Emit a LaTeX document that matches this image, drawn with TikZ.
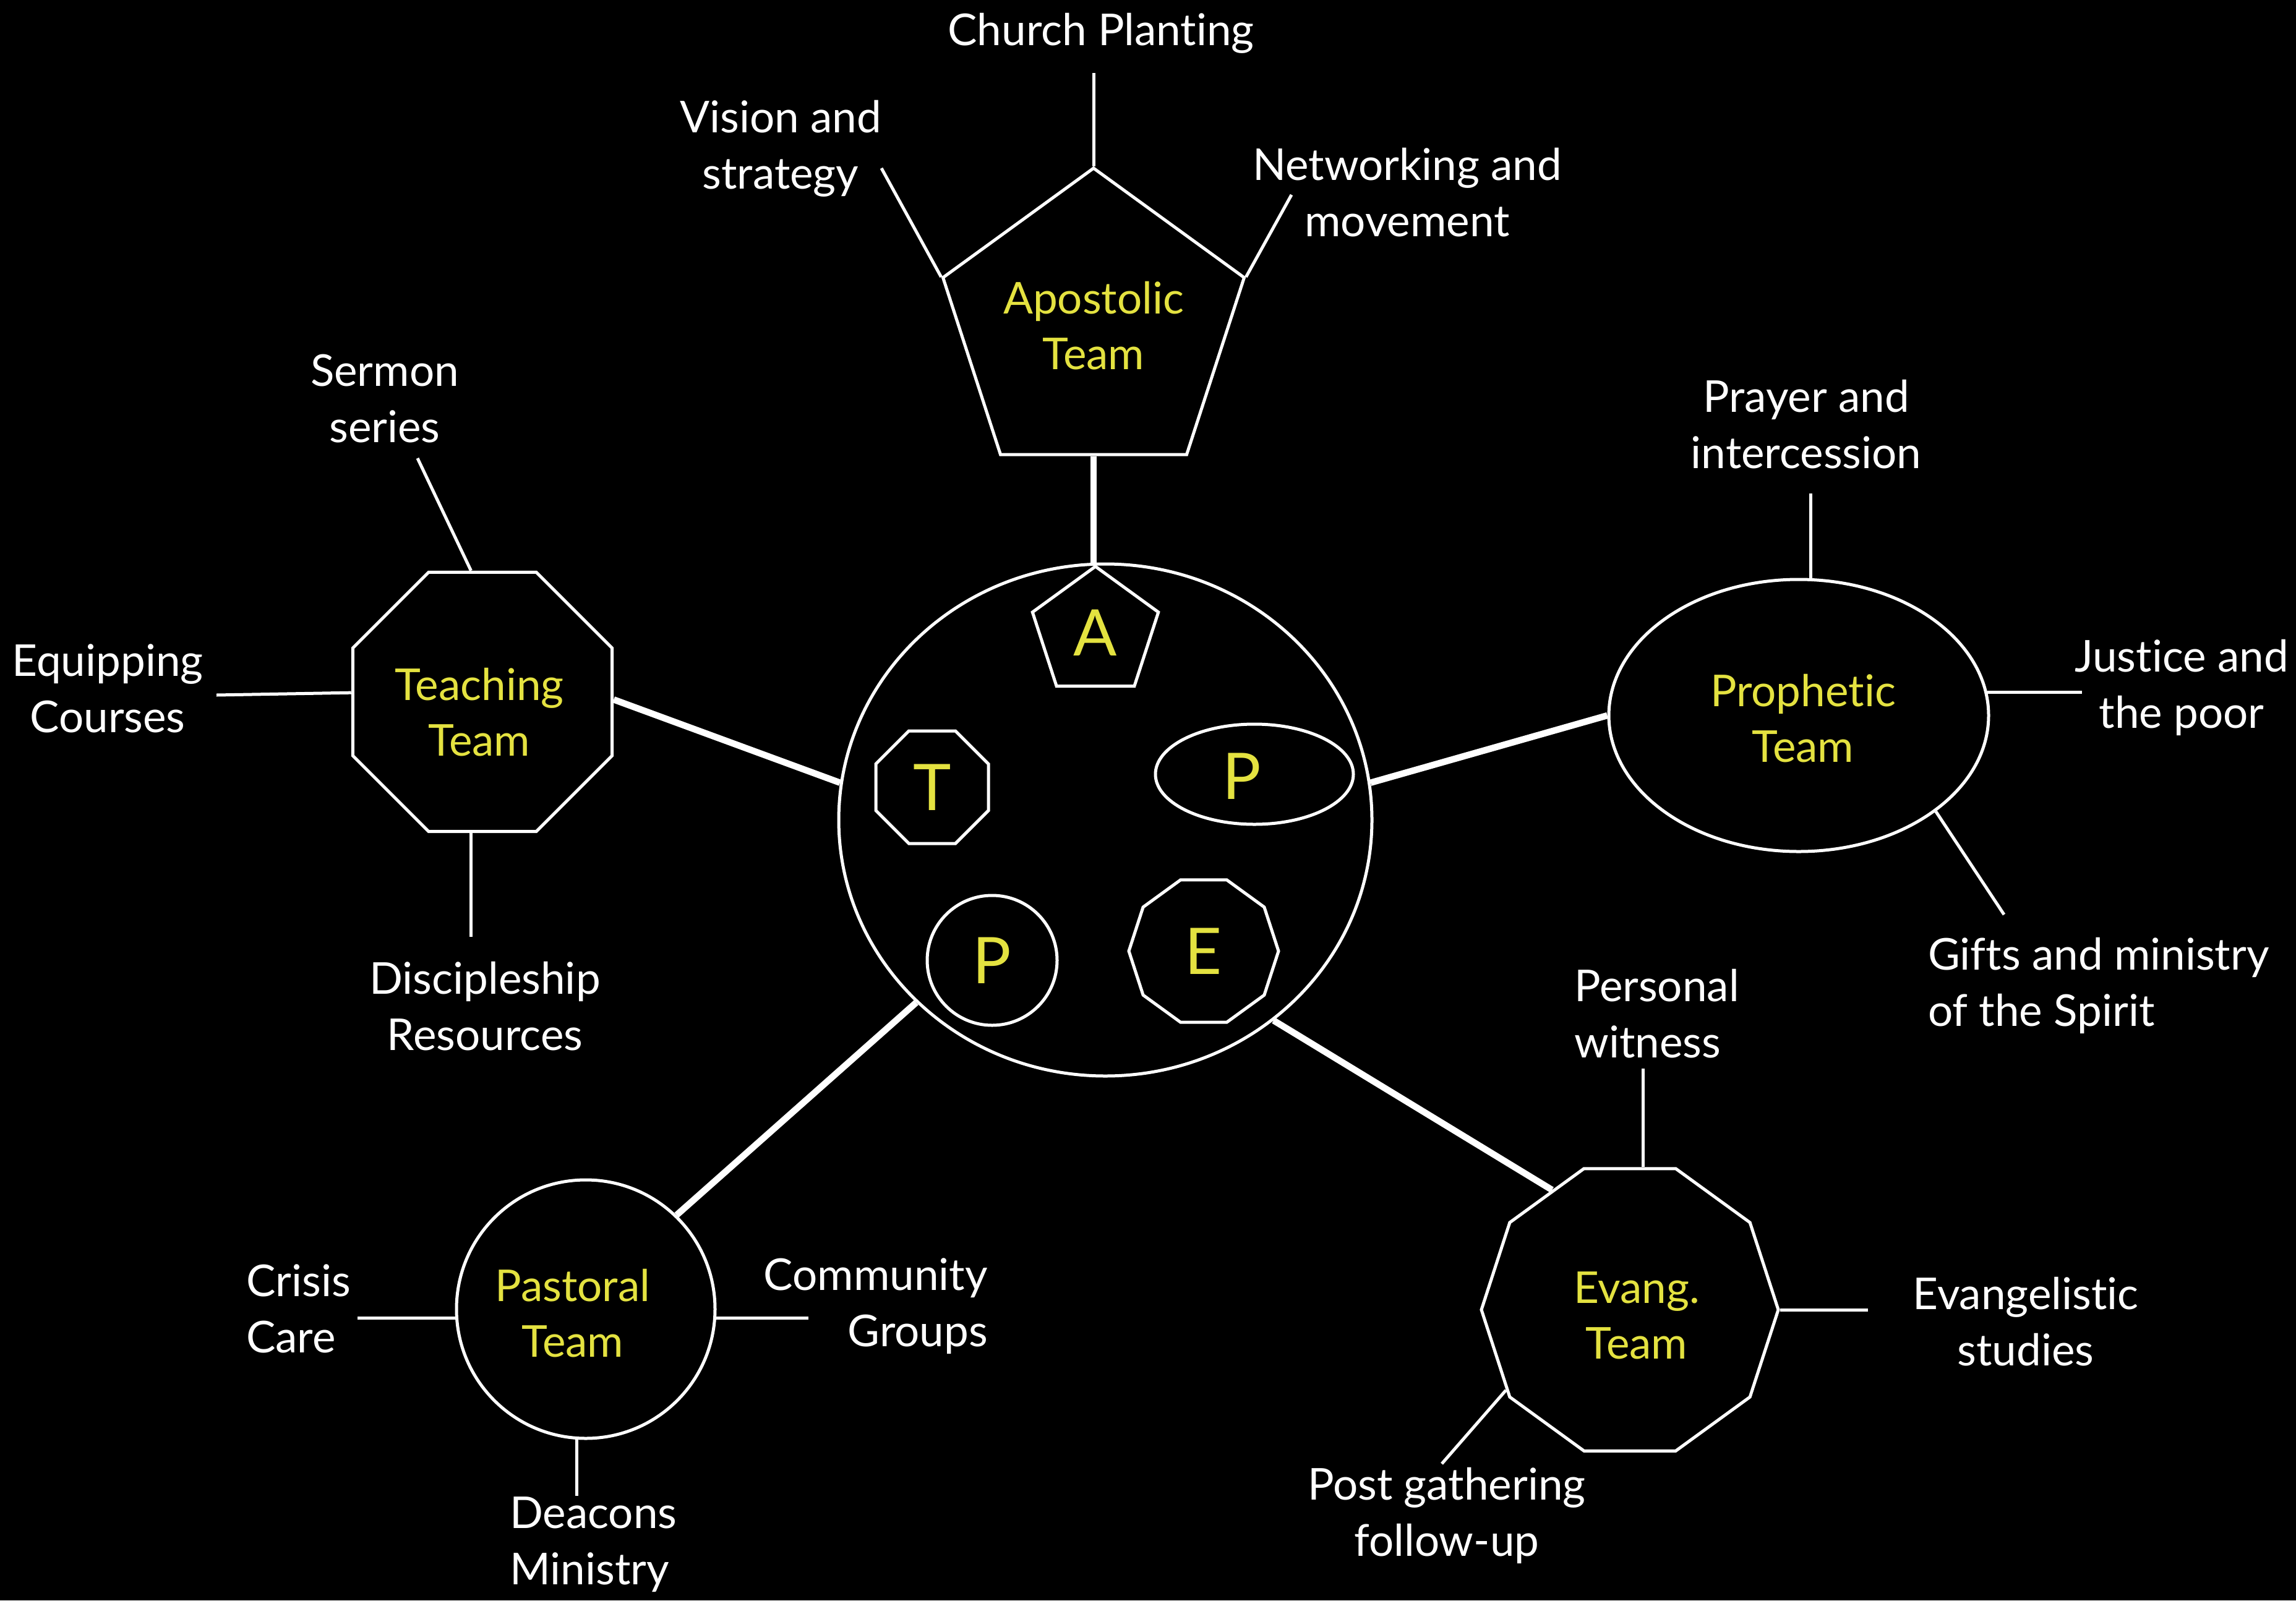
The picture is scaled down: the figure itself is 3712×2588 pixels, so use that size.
\documentclass[tikz,border=0pt]{standalone}
\usepackage{fontspec}
\setmainfont{Lato}[Ligatures=NoCommon]
\usetikzlibrary{shapes.geometric}
\definecolor{ylw}{RGB}{228,226,64}
\begin{document}
\begin{tikzpicture}[x=1pt,y=-1pt,
  shp/.style={draw=white,line width=5pt,inner sep=0pt},
  teamtxt/.style={text=ylw,align=center,inner sep=0pt,font=\fontsize{71}{90}\selectfont},
  inner/.style={draw=white,line width=5pt,inner sep=0pt,text=ylw,
     font=\fontsize{104}{120}\selectfont},
  lbl/.style={text=white,align=center,inner sep=0pt,font=\fontsize{71}{91}\selectfont},
  thin/.style={draw=white,line width=5pt},
  thick/.style={draw=white,line width=10.5pt},
  pent/.style={regular polygon,regular polygon sides=5},
  octa/.style={regular polygon,regular polygon sides=8},
  deca/.style={regular polygon,regular polygon sides=10}]
\fill[black] (0,0) rectangle (3712,2588);
\useasboundingbox (0,0) rectangle (3712,2588);

% hub
\node[shp,ellipse,minimum width=862pt,minimum height=828pt] (hub) at (1787,1326) {};
\node[inner,pent,minimum size=214pt] (ia) at (1771,1023) {A};
\node[inner,octa,minimum size=197pt] (it) at (1507,1273) {T};
\node[shp,ellipse,minimum width=320pt,minimum height=162pt] (ip1) at (2028,1252) {};
\node[text=ylw,inner sep=0pt,font=\fontsize{104}{120}\selectfont] (ip1t) at (2008,1255) {P};
\node[inner,circle,minimum size=210pt] (ip2) at (1604,1553) {P};
\node[inner,deca,minimum size=242pt] (ie) at (1946,1538) {E};

% teams
\node[shp,pent,minimum size=512pt] (apost) at (1768,528) {};
\node[shp,octa,minimum size=454pt] (teach) at (780,1135) {};
\node[shp,ellipse,minimum width=614pt,minimum height=440pt] (proph) at (2908,1157) {};
\node[shp,circle,minimum size=418pt] (past) at (947,2117) {};
\node[shp,deca,minimum size=480pt] (evang) at (2635,2118) {};
\node[teamtxt] (apostT) at (1768,527) {Apostolic\\Team};
\node[teamtxt] (teachT) at (775,1152) {Teaching\\Team};
\node[teamtxt] (prophT) at (2915,1162) {Prophetic\\Team};
\node[teamtxt] (pastT) at (926,2124) {Pastoral\\Team};
\node[teamtxt] (evangT) at (2646,2127) {Evang.\\Team};

% main connectors
\draw[thick] (apost.south) -- (apost.south |- hub.north);
\draw[thick] (teach.1) -- (hub.172);
\draw[thick] (hub.8) -- (proph.180);
\draw[thick] (past.46) -- (hub.224);
\draw[thick] (hub.310) -- (evang.123);

% labels
\node[lbl] (cp) at (1780,54) {Church Planting};
\node[lbl] (vs) at (1262,240) {Vision and\\strategy};
\node[lbl] (nm) at (2275,311) {Networking and\\movement};
\node[lbl] (ss) at (622,645) {Sermon\\series};
\node[lbl] (ec) at (174,1113) {Equipping\\Courses};
\node[lbl] (dr) at (784,1627) {Discipleship\\Resources};
\node[lbl] (pi) at (2920,686) {Prayer and\\intercession};
\node[lbl] (jp) at (3527,1112) {Justice and\\the poor};
\node[lbl,align=left,anchor=west] (gm) at (3117,1594) {Gifts and ministry\\of the Spirit};
\node[lbl,align=left,anchor=west] (pw) at (2545,1639) {Personal\\witness};
\node[lbl] (es) at (3275,2137) {Evangelistic\\studies};
\node[lbl] (pg) at (2339,2451) {Post gathering\\follow-up};
\node[lbl,align=left,anchor=west] (cc) at (398,2116) {Crisis\\Care};
\node[lbl,align=right,anchor=east] (cg) at (1597,2112) {Community\\Groups};
\node[lbl,align=left,anchor=west] (dm) at (824,2498) {Deacons\\Ministry};

% free ends
\coordinate (cpE) at (1768,118);
\coordinate (vsE) at (1425,272);
\coordinate (nmE) at (2088,315);
\coordinate (ssE) at (675,741);
\coordinate (ecE) at (350,1124);
\coordinate (drE) at (762,1515);
\coordinate (piE) at (2926,798);
\coordinate (jpE) at (3366,1120);
\coordinate (gmE) at (3240,1479);
\coordinate (pwE) at (2656,1728);
\coordinate (esE) at (3020,2130);
\coordinate (pgE) at (2331,2367);
\coordinate (ccE) at (578,2130);
\coordinate (cgE) at (1307,2133);
\coordinate (dmE) at (935,2419);

% thin connectors
\draw[thin] (cpE) -- (apost.90);
\draw[thin] (vsE) -- (apost.162);
\draw[thin] (nmE) -- (apost.18);
\draw[thin] (ssE) -- (teach.95);
\draw[thin] (ecE) -- (teach.176);
\draw[thin] (teach.265) -- (teach.265 |- drE);
\draw[thin] (proph.85) -- (proph.85 |- piE);
\draw[thin] (proph.7) -- (proph.7 -| jpE);
\draw[thin] (proph.-35.4) -- (gmE);
\draw[thin] (pwE) -- (pwE |- evang.north);
\draw[thin] (evang.east) -- (evang.east -| esE);
\draw[thin] (evang.213) -- (pgE);
\draw[thin] (past.184) -- (past.184 -| ccE);
\draw[thin] (past.-4) -- (past.-4 -| cgE);
\draw[thin] (past.266) -- (past.266 |- dmE);
\end{tikzpicture}
\end{document}
